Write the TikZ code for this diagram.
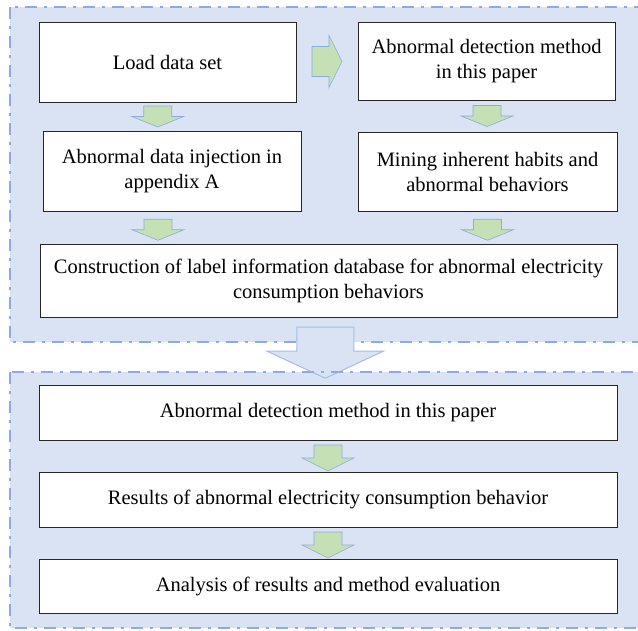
\documentclass[tikz,border=0pt]{standalone}
\usepackage{fontspec}
\setmainfont{Liberation Serif}
\usetikzlibrary{calc}

\definecolor{panelblue}{HTML}{DAE3F3}
\definecolor{panelline}{HTML}{8FAADC}
\definecolor{bigline}{HTML}{A4BDE6}
\definecolor{arrowgreen}{HTML}{C5E0B4}

\tikzset{
  stepbox/.style={draw=black!85,line width=0.8pt,fill=white,align=center,
    font=\fontsize{20.5}{25}\selectfont,inner sep=2pt},
  wideline/.style={stepbox,minimum width=578pt},
  panelborder/.style={draw=panelline,line width=2.6pt,
    dash pattern=on 12pt off 7pt on 3pt off 7pt},
  greenshape/.style={fill=arrowgreen,draw=panelline,line width=0.6pt},
  pics/greendown/.style={code={
    \draw[greenshape] (-14,-10.5) -- (14,-10.5) -- (14,0) -- (26,0)
      -- (0,10.5) -- (-26,0) -- (-14,0) -- cycle;}},
  pics/greenright/.style={code={
    \draw[greenshape] (-15,-15) -- (2,-15) -- (2,-26) -- (15,0)
      -- (2,26) -- (2,15) -- (-15,15) -- cycle;}},
  pics/bigdown/.style={code={
    \draw[fill=panelblue,draw=bigline,line width=1pt]
      (-28.5,-24) -- (28.5,-24) -- (28.5,0) -- (58,0)
      -- (0,27) -- (-58,0) -- (-28.5,0) -- cycle;}}
}

\begin{document}
\begin{tikzpicture}[x=1pt,y=-1pt]

  \useasboundingbox (0,0) rectangle (638,631);
  \clip (0,0) rectangle (638,631);

  % panels
  \fill[panelblue] (10,7) rectangle (660,342);
  \fill[panelblue] (10,372) rectangle (660,628);
  \draw[panelborder] (10,7) rectangle (660,342);

  % first stage
  \node[stepbox,minimum width=257pt,minimum height=80pt] (load)
    at (167.5,62) {Load data set};
  \node[stepbox,minimum width=257pt,minimum height=78pt] (detect)
    at (486.5,61) {Abnormal detection method\\in this paper};
  \node[stepbox,minimum width=258pt,minimum height=80pt] (inject)
    at (172,171) {Abnormal data injection in\\appendix A};
  \node[stepbox,minimum width=259pt,minimum height=79pt] (mining)
    at (487.5,171.5) {Mining inherent habits and\\abnormal behaviors};
  \node[stepbox,minimum width=577pt,minimum height=73pt] (labeldb)
    at (328.5,281) {Construction of label information database for abnormal electricity\\consumption behaviors};

  % second stage
  \node[wideline,minimum height=55pt] (method) at (328,412.5)
    {Abnormal detection method in this paper};
  \node[wideline,minimum height=55pt] (result) at (328,499.5)
    {Results of abnormal electricity consumption behavior};
  \node[wideline,minimum height=54pt] (evaluate) at (328,586)
    {Analysis of results and method evaluation};

  % arrows
  \pic at ($(load.east)!.5!(detect.west)$) {greenright};
  \pic at ($(load.south)!.5!(inject.north)+(-12,0)$) {greendown};
  \pic at ($(inject.south)!.5!(inject.south|-labeldb.north)+(-14,2)$) {greendown};
  \pic at ($(detect.south)!.5!(mining.north)$) {greendown};
  \pic at ($(mining.south)!.5!(mining.south|-labeldb.north)+(0,2)$) {greendown};
  \pic[yscale=1.24] at ($(method.south)!.5!(result.north)+(0,2)$) {greendown};
  \pic[yscale=1.24] at ($(result.south)!.5!(evaluate.north)+(0,2)$) {greendown};
  \pic at ($(labeldb.south)!.5!(method.north)+(-3,0)$) {bigdown};

  \draw[panelborder] (10,372) rectangle (660,628);

\end{tikzpicture}
\end{document}
